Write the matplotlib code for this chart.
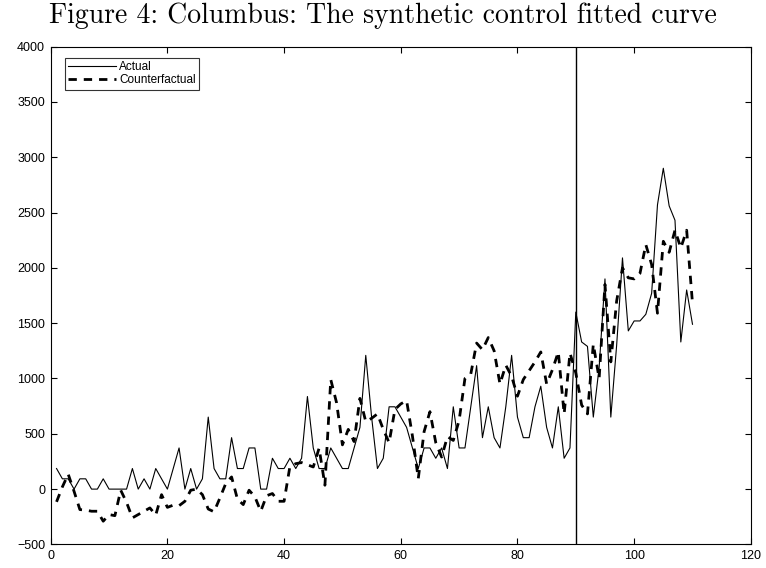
import numpy as np
import matplotlib.pyplot as plt

# Periods and the two series
period = np.arange(1, 111)

actual = [186, 93, 93, 0, 93, 93, 0, 0, 93, 0,
          0, 0, 0, 186, 0, 93, 0, 186, 93, 0,
          186, 372, 0, 186, 0, 93, 651, 186, 93, 93,
          465, 186, 186, 372, 372, 0, 0, 279, 186, 186,
          279, 186, 279, 837, 372, 186, 186, 372, 279, 186,
          186, 372, 558, 1209, 651, 186, 279, 744, 744, 651,
          558, 372, 186, 372, 372, 279, 372, 186, 744, 372,
          372, 744, 1116, 465, 744, 465, 372, 744, 1209, 651,
          465, 465, 744, 930, 558, 372, 744, 279, 372, 1600,
          1330, 1290, 651, 1100, 1900, 651, 1300, 2090, 1430, 1520,
          1520, 1580, 1770, 2570, 2900, 2560, 2430, 1330, 1800, 1490]

counterfactual = [-115, 20, 135, -20, -185, -190, -200, -200, -290, -230,
                  -240, -10, -120, -260, -230, -200, -170, -235, -50, -165,
                  -145, -150, -110, -10, 0, -50, -180, -205, -80, 50,
                  110, -90, -140, -10, -70, -200, -60, -40, -110, -110,
                  205, 230, 240, 220, 200, 370, 35, 990, 780, 400,
                  540, 430, 820, 610, 640, 680, 540, 420, 720, 770,
                  800, 480, 95, 520, 700, 420, 290, 475, 440, 620,
                  1000, 1040, 1320, 1260, 1370, 1250, 950, 1120, 1020, 840,
                  990, 1070, 1150, 1240, 950, 1080, 1240, 680, 1230, 1050,
                  760, 680, 1310, 1000, 1850, 1150, 1700, 2000, 1910, 1900,
                  1950, 2210, 2030, 1590, 2240, 2140, 2340, 2180, 2340, 1680]

treatment_period = 90

fig = plt.figure(figsize=(7.66, 5.68), dpi=100)
ax = fig.add_axes([0.0662, 0.0415, 0.914, 0.8765])

ax.plot(period, actual, color='black', linewidth=0.8, label='Actual')
ax.plot(period, counterfactual, color='black', linewidth=2.0,
        linestyle=(0, (3, 2.5)), label='Counterfactual')
ax.axvline(treatment_period, color='black', linewidth=1.0)

ax.set_xlim(0, 120)
ax.set_ylim(-500, 4000)
ax.set_xticks(np.arange(0, 121, 20))
ax.set_yticks(np.arange(-500, 4001, 500))
ax.tick_params(direction='in', top=True, right=True, length=4, width=0.8,
               labelsize=9, pad=4)
for lbl in ax.get_xticklabels() + ax.get_yticklabels():
    lbl.set_family('Liberation Sans')
for s in ax.spines.values():
    s.set_linewidth(0.8)

leg = ax.legend(loc='upper left', bbox_to_anchor=(0.015, 0.985),
                prop={'family': 'Liberation Sans', 'size': 8.5},
                frameon=True, fancybox=False, edgecolor='black',
                handlelength=4.0, handletextpad=0.3, borderpad=0.3,
                labelspacing=0.1, borderaxespad=0.3)
leg.get_frame().set_linewidth(0.8)

fig.text(0.5, 0.973, 'Figure 4: Columbus: The synthetic control fitted curve',
         ha='center', va='center', fontsize=20, family='cmr10')

fig.savefig('out.png', dpi=100)
plt.close(fig)
